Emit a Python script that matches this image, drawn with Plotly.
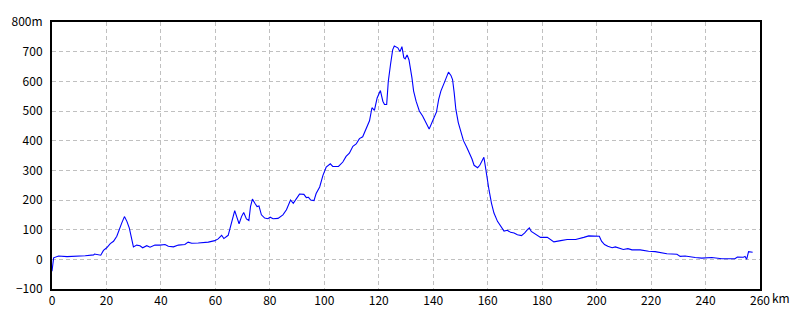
import plotly.graph_objects as go

dist_km = [0, 0.3, 0.6, 2.4, 5.5, 12.2, 15.3, 15.6, 17.9, 18.9, 20.1, 21.4, 22.6, 23.8, 24.8, 25.6,
           26.6, 27.5, 28.4, 29.3, 29.9, 31.1, 32.3, 33.3, 34.8, 36.0, 37.8, 39.7, 41.5, 42.7,
           44.6, 46.4, 48.8, 50.0, 51.3, 53.7, 57.4, 59.8, 61.0, 62.3, 63.1, 64.7, 65.4, 66.2,
           67.1, 68.0, 68.7, 69.6, 70.4, 71.4, 72.3, 72.9, 73.6, 74.5, 75.3, 76.0, 76.9, 78.1,
           79.3, 80.1, 81.2, 83.0, 84.8, 86.1, 87.6, 88.6, 89.7, 90.9, 92.5, 93.4, 94.2, 95.0,
           96.2, 97.0, 98.3, 99.5, 100.7, 102.2, 103.1, 105.2, 106.8, 108.0, 109.2, 110.5,
           111.7, 112.9, 114.1, 115.4, 116.6, 117.5, 118.4, 119.4, 120.6, 121.5, 122.1, 122.9,
           123.5, 124.3, 125.1, 125.7, 127.0, 127.8, 128.5, 129.2, 129.7, 130.4, 131.1, 132.2,
           132.8, 133.7, 134.9, 136.1, 137.3, 138.5, 139.8, 141.2, 142.0, 142.8, 144.0, 145.0,
           145.6, 146.5, 147.1, 147.7, 148.3, 149.2, 150.1, 151.1, 152.3, 153.2, 154.2, 155.0,
           156.3, 157.1, 158.1, 158.6, 159.0, 159.7, 160.5, 161.4, 162.3, 163.6, 164.8, 166.0,
           167.2, 168.4, 169.7, 170.9, 172.4, 173.6, 174.6, 175.3, 176.0, 176.8, 178.2, 179.4,
           181.9, 183.1, 184.3, 186.8, 189.2, 192.3, 194.1, 195.3, 197.1, 199.0, 201.0, 201.8,
           202.9, 204.1, 205.7, 206.9, 208.7, 209.8, 211.5, 213.0, 216.0, 219.1, 221.5, 224.0,
           225.8, 229.5, 230.7, 232.5, 234.4, 236.2, 238.6, 242.3, 246.0, 250.8, 251.7, 253.9,
           254.5, 255.1, 255.8, 257.3]
elev_m = [-40, 0, 5, 11, 9, 12, 15, 18, 14, 30, 39, 53, 61, 78, 105, 122,
          144, 128, 105, 72, 42, 48, 46, 39, 46, 41, 48, 48, 50, 44,
          42, 48, 50, 58, 54, 55, 58, 63, 69, 81, 70, 81, 106, 139,
          164, 139, 120, 144, 158, 136, 131, 178, 203, 189, 178, 180, 150, 139,
          137, 142, 137, 138, 150, 167, 200, 189, 206, 220, 219, 208, 209, 200,
          198, 222, 244, 283, 311, 322, 313, 313, 328, 347, 358, 381,
          389, 407, 413, 439, 467, 511, 502, 544, 569, 533, 522, 522,
          600, 656, 706, 719, 713, 700, 717, 680, 676, 689, 672, 611,
          567, 533, 500, 483, 463, 439, 467, 497, 539, 567, 594, 617,
          631, 620, 606, 561, 506, 461, 428, 400, 378, 361, 339, 317,
          309, 317, 333, 344, 322, 272, 233, 189, 156, 128, 111, 95,
          98, 91, 89, 83, 80, 89, 100, 106, 94, 89, 80, 74,
          74, 67, 59, 63, 67, 67, 70, 74, 79, 79, 78, 61,
          50, 44, 39, 42, 37, 33, 36, 32, 32, 27, 26, 22,
          19, 17, 10, 11, 8, 6, 4, 6, 2, 2, 8, 7,
          10, 0, 26, 24]

x_ticks = [0, 20, 40, 60, 80, 100, 120, 140, 160, 180, 200, 220, 240, 260]
x_labels = ["0", "20", "40", "60", "80", "100", "120", "140", "160", "180", "200", "220", "240", "260"]
y_ticks = [-100, 0, 100, 200, 300, 400, 500, 600, 700, 800]
y_labels = ["−100", "0", "100", "200", "300", "400", "500", "600", "700", "800m"]

FONT = "MS Gothic, Noto Sans CJK JP, DejaVu Sans"

fig = go.Figure()
fig.add_trace(go.Scatter(x=dist_km, y=elev_m, mode="lines",
                         line=dict(color="#0000ff", width=1.1), hoverinfo="skip"))

axis_common = dict(showline=True, linecolor="black", linewidth=2, mirror=True,
                   showgrid=True, gridcolor="#c0c0c0", griddash="4px,3px", gridwidth=1,
                   zeroline=False, ticks="", tickfont=dict(family=FONT, size=12, color="black"))

fig.update_layout(
    width=800, height=320,
    margin=dict(l=50, r=40, t=20, b=30),
    paper_bgcolor="white", plot_bgcolor="white",
    showlegend=False,
    xaxis=dict(range=[0, 260], tickvals=x_ticks, ticktext=x_labels, **axis_common),
    yaxis=dict(range=[-100, 800], tickvals=y_ticks, ticktext=y_labels,
               ticklabelstandoff=5, **axis_common),
    annotations=[dict(text="km", x=1, y=0, xref="paper", yref="paper",
                      xanchor="left", yanchor="top", xshift=10, yshift=2, showarrow=False,
                      font=dict(family=FONT, size=12, color="black"))],
)

fig.write_html("out.html")
